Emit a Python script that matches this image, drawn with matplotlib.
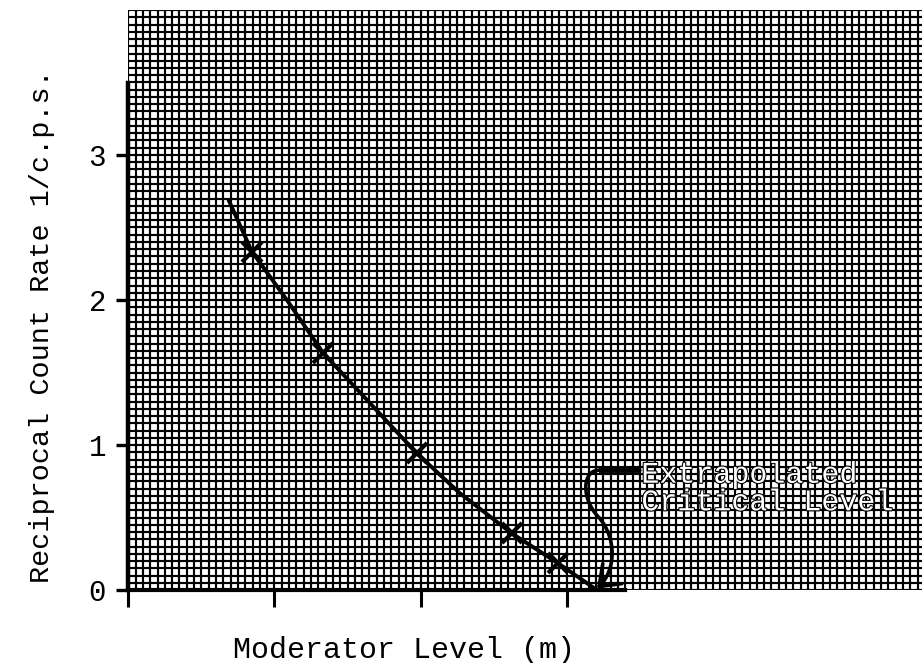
import numpy as np
import matplotlib
matplotlib.use("Agg")
import matplotlib.pyplot as plt
from matplotlib.ticker import MultipleLocator
from matplotlib.path import Path
from matplotlib.patches import FancyArrowPatch
import matplotlib.patheffects as pe

# ---- data ----
curve_x = [0.686, 0.846, 1.085, 1.335, 1.654, 1.973, 2.269, 2.623, 2.941, 3.206]
curve_y = [2.69, 2.333, 2.00, 1.632, 1.288, 0.943, 0.667, 0.391, 0.184, 0.0]
meas_x = [0.846, 1.335, 1.973, 2.623, 2.941]
meas_y = [2.333, 1.632, 0.943, 0.391, 0.184]
yticks = [0, 1, 2, 3]
ytick_labels = ["0", "1", "2", "3"]
xticks = [0, 1, 2, 3]
xlabel = "Moderator Level (m)"
ylabel = "Reciprocal Count Rate 1/c.p.s."
note_lines = ["Extrapolated", "Critical Level"]
critical_level = 3.206

FONT = ["Liberation Mono", "DejaVu Sans Mono"]

fig = plt.figure(figsize=(9.22, 6.63), dpi=100)
ax = fig.add_axes([128.3 / 922, 1 - 590 / 663, 1 - 128.3 / 922, 580 / 663])
ax.set_xlim(0, 5.43)
ax.set_ylim(0, 4.0)

# graph-paper grid
ax.xaxis.set_minor_locator(MultipleLocator(0.05))
ax.yaxis.set_minor_locator(MultipleLocator(0.05))
ax.xaxis.remove_overlapping_locs = False
ax.yaxis.remove_overlapping_locs = False
ax.grid(which="minor", color="black", linewidth=1.55, zorder=0)
ax.grid(which="major", visible=False)
ax.set_axisbelow(True)

# ticks
ax.set_xticks(xticks)
ax.set_xticklabels([])
ax.set_yticks(yticks)
ax.set_yticklabels(ytick_labels, fontfamily=FONT, fontsize=21)
ax.tick_params(which="minor", length=0)
ax.tick_params(axis="y", which="major", direction="out", length=9, width=2.4, pad=7)
ax.tick_params(axis="x", which="major", direction="out", length=12, width=2.2)

for s in ["top", "right"]:
    ax.spines[s].set_visible(False)
ax.spines["left"].set_linewidth(3.2)
ax.spines["bottom"].set_linewidth(3.0)
ax.spines["left"].set_bounds(0, 3.5)
ax.spines["bottom"].set_bounds(0, 3.4)

# data curve and crosses
ax.plot(curve_x, curve_y, color="black", linewidth=2.8, zorder=3, clip_on=False,
        solid_capstyle="round")
ax.plot(meas_x, meas_y, linestyle="none", marker="x", markersize=15,
        markeredgewidth=3.0, color="black", zorder=4)

# bracket arrow to the extrapolated critical level
verts = [(3.50, 0.826), (3.22, 0.826),
         (3.10, 0.826), (3.10, 0.62), (3.22, 0.50),
         (3.34, 0.36), (3.34, 0.14), (critical_level, 0.01)]
codes = [Path.MOVETO, Path.LINETO,
         Path.CURVE4, Path.CURVE4, Path.CURVE4,
         Path.CURVE4, Path.CURVE4, Path.CURVE4]
arrow = FancyArrowPatch(path=Path(verts, codes),
                        arrowstyle="->,head_length=0.6,head_width=0.45",
                        mutation_scale=22, color="black", linewidth=2.6,
                        transform=ax.transData, zorder=5, clip_on=False)
ax.add_patch(arrow)
ax.plot([3.22, 3.50], [0.826, 0.826], color="black", linewidth=4.2, zorder=5,
        solid_capstyle="butt")

outline = [pe.withStroke(linewidth=1.6, foreground="black")]
ax.text(3.51, 0.795, note_lines[0], fontfamily=FONT, fontsize=21.6, color="white",
        va="center", ha="left", zorder=6, path_effects=outline)
ax.text(3.51, 0.605, note_lines[1], fontfamily=FONT, fontsize=21.6, color="white",
        va="center", ha="left", zorder=6, path_effects=outline)

# axis labels
fig.text(404 / 922, 1 - 650 / 663, xlabel, fontfamily=FONT, fontsize=21.6,
         ha="center", va="center")
fig.text(42 / 922, 1 - 326 / 663, ylabel, fontfamily=FONT, fontsize=20.5,
         ha="center", va="center", rotation=90)

fig.savefig("out.png", dpi=100)
